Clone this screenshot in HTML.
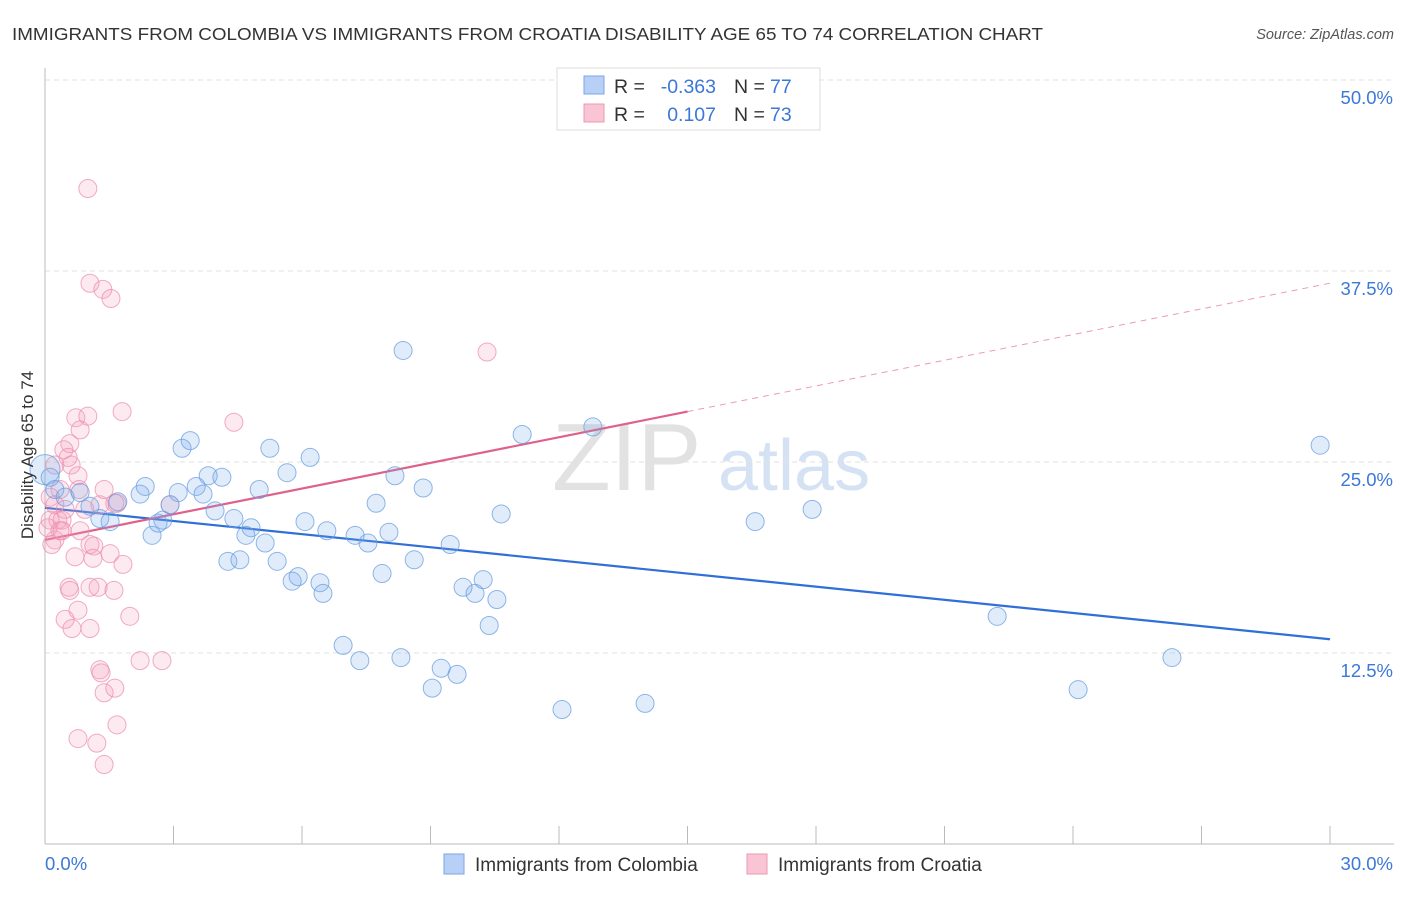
<!DOCTYPE html>
<html><head><meta charset="utf-8"><style>
body{margin:0;background:#fff;font-family:"Liberation Sans",sans-serif;}
svg text{font-family:"Liberation Sans",sans-serif;}
</style></head><body>
<svg id="chart" width="1406" height="892" xmlns="http://www.w3.org/2000/svg">
<text x="12" y="40" font-size="17.5" fill="#333" textLength="1031" lengthAdjust="spacingAndGlyphs">IMMIGRANTS FROM COLOMBIA VS IMMIGRANTS FROM CROATIA DISABILITY AGE 65 TO 74 CORRELATION CHART</text>
<text x="1394" y="39" font-size="14.5" fill="#555" text-anchor="end" font-style="italic">Source: ZipAtlas.com</text>
<g>
<text x="552" y="490" font-size="96" fill="#e2e2e2" font-family="Liberation Serif">ZIP</text>
<text x="718" y="490" font-size="72" fill="#d4e2f4">atlas</text>
</g>
<g id="grid"></g><g id="axes"></g><g id="lines"></g><g id="pts"></g>
<text transform="translate(33,455) rotate(-90)" font-size="17" fill="#333" text-anchor="middle">Disability Age 65 to 74</text>
<g>
<rect x="557" y="68" width="263" height="62" fill="#fff" stroke="#ddd"/>
<rect x="584" y="76" width="20" height="18" fill="#b8d0f5" stroke="#7aa6e6"/>
<rect x="584" y="104" width="20" height="18" fill="#f9c4d4" stroke="#ec98b3"/>
<text x="614" y="93" font-size="19.5" fill="#333">R =</text>
<text x="716" y="93" font-size="19.5" fill="#3b78d8" text-anchor="end">-0.363</text>
<text x="734" y="93" font-size="19.5" fill="#333">N =</text>
<text x="770" y="93" font-size="19.5" fill="#3b78d8">77</text>
<text x="614" y="121" font-size="19.5" fill="#333">R =</text>
<text x="716" y="121" font-size="19.5" fill="#3b78d8" text-anchor="end">0.107</text>
<text x="734" y="121" font-size="19.5" fill="#333">N =</text>
<text x="770" y="121" font-size="19.5" fill="#3b78d8">73</text>
</g>
<g>
<rect x="444" y="854" width="20" height="20" fill="#b8d0f5" stroke="#7aa6e6"/>
<text x="475" y="871" font-size="19" fill="#333">Immigrants from Colombia</text>
<rect x="747" y="854" width="20" height="20" fill="#f9c4d4" stroke="#ec98b3"/>
<text x="778" y="871" font-size="19" fill="#333">Immigrants from Croatia</text>
</g>
</svg>
<script>
const yTicks=[12.5,25,37.5,50];
const yTickLabels=["12.5%","25.0%","37.5%","50.0%"];
const xTickCount=10;
const xEndLabels=["0.0%","30.0%"];
const blueX=[0,0.12,0.23,0.47,0.82,1.05,1.28,1.52,1.70,2.22,2.34,2.50,2.64,2.75,2.92,3.11,3.20,3.39,3.53,3.69,3.81,3.97,4.13,4.27,4.41,4.55,4.69,4.81,5.00,5.14,5.25,5.42,5.65,5.77,5.91,6.07,6.19,6.42,6.49,6.58,6.96,7.24,7.35,7.54,7.73,7.87,8.03,8.17,8.31,8.36,8.62,8.83,9.04,9.25,9.46,9.62,9.76,10.04,10.23,10.37,10.55,10.65,11.14,12.07,12.79,14.01,16.58,17.91,22.23,24.12,26.31,29.77];
const blueY=[24.5,24.0,23.2,22.7,23.0,22.1,21.3,21.1,22.4,22.9,23.4,20.2,21.0,21.2,22.2,23.0,25.9,26.4,23.4,22.9,24.1,21.8,24.0,18.5,21.3,18.6,20.2,20.7,23.2,19.7,25.9,18.5,24.3,17.2,17.5,21.1,25.3,17.1,16.4,20.5,13.0,20.2,12.0,19.7,22.3,17.7,20.4,24.1,12.2,32.3,18.6,23.3,10.2,11.5,19.6,11.1,16.8,16.4,17.3,14.3,16.0,21.6,26.8,8.8,27.3,9.2,21.1,21.9,14.9,10.1,12.2,26.1];
const pinkX=[1.00,1.05,1.35,1.54,10.32,1.80,0.72,1.00,0.82,4.41,0.58,0.44,0.54,0.77,0.61,0.79,0.35,0.12,0.23,0.47,0.30,0.40,0.07,0.23,0.16,0.82,1.28,1.63,1.38,1.68,2.92,0.93,0.40,1.05,1.52,1.14,1.82,0.70,1.12,0.56,0.58,1.05,1.24,1.61,1.98,0.77,0.47,0.63,1.05,2.73,2.22,1.28,1.31,1.38,1.63,1.68,0.77,1.21,1.38,0.23,0.12,0.35];
const pinkY=[42.9,36.7,36.3,35.7,32.2,28.3,27.9,28.0,27.1,27.6,26.2,25.8,25.3,24.1,24.8,23.2,23.2,22.7,22.2,21.9,21.2,21.2,20.7,19.9,19.6,20.5,22.2,22.3,23.2,22.3,22.2,21.9,20.5,19.6,19.0,19.5,18.3,18.8,18.7,16.8,16.6,16.8,16.8,16.6,14.9,15.3,14.7,14.1,14.1,12.0,12.0,11.4,11.2,9.9,10.2,7.8,6.9,6.6,5.2,24.8,21.2,20.5];
const blueTrend=[22.0,13.4];
const pinkTrend=[19.9,36.7];
const pinkSolidEnd=15;
const X0=45,X1=1330,Y0=844,PXPER=191/12.5;
const sx=v=>X0+(X1-X0)*v/30, sy=v=>Y0-v*PXPER;
const NS="http://www.w3.org/2000/svg";
function mk(t,a,p){const e=document.createElementNS(NS,t);for(const k in a)e.setAttribute(k,a[k]);p.appendChild(e);return e;}
const grid=document.getElementById('grid'),axes=document.getElementById('axes'),lines=document.getElementById('lines'),pts=document.getElementById('pts');
yTicks.forEach((v,i)=>{
 const l=mk('line',{x1:X0,x2:1394,y1:sy(v),y2:sy(v),stroke:'#e2e2e2','stroke-dasharray':'5,4'},grid);
 
 
 const t=mk('text',{x:1393,y:sy(v)+24,'font-size':18.5,fill:'#3b78d8','text-anchor':'end'},axes);
 t.textContent=yTickLabels[i];
 
 
});
const ya=mk('line',{x1:X0,x2:X0,y1:68,y2:Y0,stroke:'#bbb'},axes);


const xa=mk('line',{x1:X0,x2:1394,y1:Y0,y2:Y0,stroke:'#bbb'},axes);


for(let i=1;i<=xTickCount;i++){const x=sx(i*3);const tk=mk('line',{x1:x,x2:x,y1:826,y2:Y0,stroke:'#bbb'},axes);
 
 }
[[0,'start',45],[1,'end',1393]].forEach(([i,a,x])=>{const t=mk('text',{x:x,y:870,'font-size':18.5,fill:'#3b78d8','text-anchor':a},axes);t.textContent=xEndLabels[i];
 
 });
function dots(xs,ys,fill,stroke,name){xs.forEach((x,i)=>{const c=mk('circle',{cx:sx(x),cy:sy(ys[i]),r:(i==0&&name=='colombia-point')?15:9,fill:fill,stroke:stroke,'stroke-width':1,'stroke-opacity':0.75},pts);
 
 });}
dots(pinkX,pinkY,'rgba(244,160,188,0.22)','#ec8fae','croatia-point');
dots(blueX,blueY,'rgba(120,168,235,0.22)','#6a9ee0','colombia-point');
const bl=mk('line',{x1:sx(0),y1:sy(blueTrend[0]),x2:sx(30),y2:sy(blueTrend[1]),stroke:'#2f6fd6','stroke-width':2.2},lines);


const pm=pinkTrend[0]+(pinkTrend[1]-pinkTrend[0])*pinkSolidEnd/30;
const pl=mk('line',{x1:sx(0),y1:sy(pinkTrend[0]),x2:sx(pinkSolidEnd),y2:sy(pm),stroke:'#e0608a','stroke-width':2.2},lines);


const pd=mk('line',{x1:sx(pinkSolidEnd),y1:sy(pm),x2:sx(30),y2:sy(pinkTrend[1]),stroke:'#ec9ab5','stroke-width':1,'stroke-dasharray':'6,5'},lines);


</script>
</body></html>
